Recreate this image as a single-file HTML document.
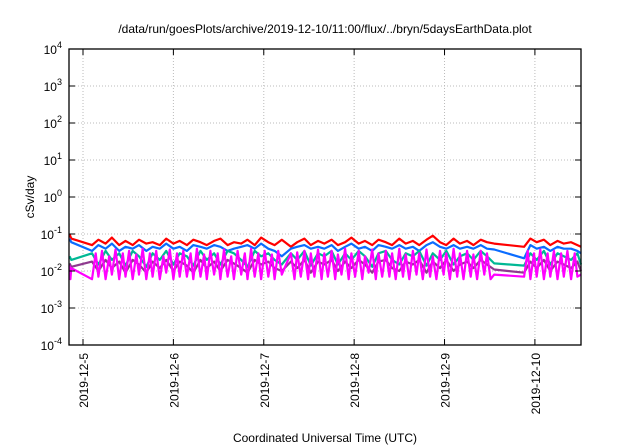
<!DOCTYPE html>
<html><head><meta charset="utf-8"><style>
html,body{margin:0;padding:0;background:#fff;}
svg{display:block;font-family:"Liberation Sans",sans-serif;}
</style></head><body>
<svg id="chart" width="640" height="448">
<text x="325" y="33" text-anchor="middle" font-size="12">/data/run/goesPlots/archive/2019-12-10/11:00/flux/../bryn/5daysEarthData.plot</text>
<g id="grid"></g>
<g id="series"></g>
<rect x="69" y="49" width="512" height="296" fill="none" stroke="#000" stroke-width="1.3"/>
<g id="axes"></g>
<text x="0" y="0" transform="translate(34,197) rotate(-90)" text-anchor="middle" font-size="12">cSv/day</text>
<text x="325" y="442" text-anchor="middle" font-size="12">Coordinated Universal Time (UTC)</text>
</svg>
<script>
const xTickValues=[5,6,7,8,9,10];
const xTickLabels=["2019-12-5","2019-12-6","2019-12-7","2019-12-8","2019-12-9","2019-12-10"];
const yTickExps=[-4,-3,-2,-1,0,1,2,3,4];
const times=[4.85,4.87,5.10,5.17,5.25,5.32,5.40,5.47,5.55,5.62,5.70,5.77,5.85,5.92,6.00,6.07,6.15,6.22,6.30,6.37,6.45,6.52,6.60,6.67,6.75,6.82,6.90,6.97,7.05,7.12,7.20,7.30,7.37,7.45,7.52,7.60,7.67,7.75,7.82,7.90,7.97,8.05,8.12,8.20,8.27,8.35,8.42,8.50,8.57,8.65,8.72,8.80,8.87,8.95,9.02,9.10,9.17,9.25,9.32,9.40,9.47,9.55,9.88,9.95,10.02,10.10,10.17,10.25,10.32,10.40,10.47,10.51];
const redVals=[0.1,0.075,0.05,0.07,0.055,0.08,0.05,0.065,0.05,0.07,0.055,0.06,0.05,0.075,0.055,0.065,0.05,0.07,0.06,0.05,0.065,0.075,0.05,0.06,0.055,0.07,0.05,0.08,0.06,0.05,0.07,0.045,0.06,0.075,0.05,0.065,0.055,0.07,0.05,0.06,0.08,0.055,0.065,0.05,0.07,0.06,0.05,0.075,0.055,0.065,0.05,0.07,0.09,0.06,0.05,0.075,0.055,0.065,0.05,0.07,0.06,0.055,0.045,0.075,0.06,0.07,0.05,0.065,0.055,0.06,0.05,0.045];
const blueVals=[0.075,0.06,0.035,0.05,0.04,0.055,0.035,0.045,0.04,0.05,0.035,0.045,0.04,0.055,0.04,0.045,0.035,0.05,0.045,0.04,0.05,0.045,0.035,0.04,0.045,0.05,0.04,0.055,0.04,0.035,0.025,0.04,0.045,0.05,0.04,0.045,0.04,0.05,0.035,0.045,0.055,0.04,0.045,0.035,0.05,0.045,0.04,0.05,0.04,0.045,0.035,0.05,0.06,0.045,0.04,0.05,0.04,0.045,0.04,0.05,0.04,0.038,0.022,0.05,0.04,0.045,0.035,0.045,0.04,0.04,0.035,0.03];
const greenVals=[0.025,0.02,0.03,0.015,0.035,0.02,0.03,0.014,0.035,0.025,0.013,0.03,0.02,0.035,0.015,0.03,0.025,0.014,0.035,0.02,0.03,0.015,0.035,0.03,0.02,0.013,0.035,0.025,0.03,0.02,0.015,0.03,0.02,0.035,0.014,0.03,0.025,0.035,0.015,0.03,0.02,0.035,0.025,0.013,0.03,0.035,0.02,0.015,0.03,0.025,0.035,0.014,0.03,0.02,0.035,0.015,0.025,0.03,0.02,0.035,0.025,0.016,0.014,0.03,0.02,0.035,0.015,0.03,0.025,0.02,0.03,0.015];
const purpleVals=[0.016,0.013,0.018,0.01,0.02,0.012,0.018,0.009,0.02,0.015,0.009,0.018,0.012,0.02,0.01,0.018,0.014,0.009,0.02,0.012,0.018,0.01,0.02,0.016,0.012,0.009,0.02,0.015,0.018,0.012,0.01,0.018,0.012,0.02,0.009,0.018,0.015,0.02,0.01,0.018,0.012,0.02,0.015,0.009,0.018,0.02,0.012,0.01,0.018,0.015,0.02,0.009,0.018,0.012,0.02,0.01,0.015,0.018,0.012,0.02,0.015,0.011,0.009,0.018,0.012,0.02,0.01,0.018,0.015,0.012,0.018,0.01];
const magTimes=[4.85,4.86,4.87,
5.10,5.14,5.17,5.21,5.25,5.29,5.32,5.36,5.40,5.44,5.47,5.51,5.55,5.59,5.62,5.66,5.70,5.74,5.77,5.81,5.85,5.89,5.92,5.96,6.00,6.04,6.07,6.11,6.15,6.19,6.22,6.26,6.30,6.34,6.37,6.41,6.45,6.49,6.52,6.56,6.60,6.64,6.67,6.71,6.75,6.79,6.82,6.86,6.90,6.94,6.97,7.01,7.05,7.09,7.12,7.16,7.20,
7.30,7.34,7.37,7.41,7.45,7.49,7.52,7.56,7.60,7.64,7.67,7.71,7.75,7.79,7.82,7.86,7.90,7.94,7.97,8.01,8.05,8.09,8.12,8.16,8.20,8.24,8.27,8.31,8.35,8.39,8.42,8.46,8.50,8.54,8.57,8.61,8.65,8.69,8.72,8.76,8.80,8.84,8.87,8.91,8.95,8.99,9.02,9.06,9.10,9.14,9.17,9.21,9.25,9.29,9.32,9.36,9.40,9.44,9.47,9.51,9.55,
9.88,9.92,9.95,9.99,10.02,10.06,10.10,10.14,10.17,10.21,10.25,10.29,10.32,10.36,10.40,10.44,10.47,10.51];
const magentaVals=[0.014,0.006,0.012,
0.006,0.03,0.007,0.035,0.006,0.025,0.008,0.038,0.006,0.03,
0.007,0.035,0.006,0.028,0.008,0.04,0.006,0.03,0.007,0.035,
0.006,0.025,0.009,0.038,0.006,0.03,0.007,0.035,0.007,0.03,
0.006,0.04,0.007,0.028,0.006,0.035,0.008,0.03,0.006,0.038,
0.007,0.025,0.006,0.035,0.008,0.03,0.006,0.04,0.007,0.03,
0.006,0.035,0.007,0.028,0.006,0.035,0.008,0.03,0.006,0.032,
0.007,0.035,0.006,0.03,0.007,0.038,0.006,0.03,0.007,0.035,
0.006,0.028,0.008,0.04,0.006,0.03,0.007,0.035,0.006,0.025,
0.009,0.038,0.006,0.03,0.007,0.035,0.007,0.03,0.006,0.04,
0.007,0.028,0.006,0.035,0.008,0.03,0.006,0.038,0.007,0.025,
0.006,0.035,0.008,0.03,0.006,0.04,0.007,0.03,0.006,0.035,
0.007,0.028,0.006,0.035,0.008,0.03,0.006,0.008,0.007,0.035,
0.006,0.03,0.007,0.038,0.006,0.03,0.007,0.035,0.006,0.03,
0.007,0.035,0.006,0.03,0.007,0.008,0.007,0.03,0.006,0.025];
const seriesNames=["red","blue","green","purple","magenta"];
const seriesColors=["#ff0000","#0a6cff","#00b894","#8e3a8e","#ff00ff"];
const seriesData=[redVals,blueVals,greenVals,purpleVals,magentaVals];
const seriesTimes=[times,times,times,times,magTimes];

const L=69,R=581,T=49,B=345,X0=4.845,X1=10.51;
const xs=v=>L+(v-X0)/(X1-X0)*(R-L);
const ys=v=>B-(Math.log10(v)+4)/8*(B-T);
const NS="http://www.w3.org/2000/svg";
const grid=document.getElementById('grid'),axes=document.getElementById('axes'),sg=document.getElementById('series');
function mk(tag,attrs,parent){const e=document.createElementNS(NS,tag);for(const k in attrs)e.setAttribute(k,attrs[k]);parent.appendChild(e);return e;}
yTickExps.forEach(ex=>{
  const y=B-(ex+4)/8*(B-T);
  const g=mk('line',{x1:L,x2:R,y1:y,y2:y,stroke:'#bbb','stroke-dasharray':'1,2','stroke-width':1},grid);
  
  
  const t1=mk('line',{x1:L,x2:L+6,y1:y,y2:y,stroke:'#000'},axes);
  
  
  const t2=mk('line',{x1:R-6,x2:R,y1:y,y2:y,stroke:'#000'},axes);
  
  
  const tx=mk('text',{x:L-7,y:y+5,'text-anchor':'end','font-size':12},axes);
  
  
  tx.textContent='10';
  const sp=mk('tspan',{dy:-6,'font-size':9},tx);sp.textContent=String(ex);
});
xTickValues.forEach((v,i)=>{
  const x=xs(v);
  const g=mk('line',{x1:x,x2:x,y1:T,y2:B,stroke:'#bbb','stroke-dasharray':'1,2','stroke-width':1},grid);
  
  
  const t1=mk('line',{x1:x,x2:x,y1:B-6,y2:B,stroke:'#000'},axes);
  
  
  const t2=mk('line',{x1:x,x2:x,y1:T,y2:T+6,stroke:'#000'},axes);
  
  
  const tx=mk('text',{x:0,y:0,transform:`translate(${x+5},${B+8}) rotate(-90)`,'text-anchor':'end','font-size':12},axes);
  
  
  tx.textContent=xTickLabels[i];
});
seriesData.forEach((vals,si)=>{
  const ts=seriesTimes[si];
  const n=Math.min(vals.length,ts.length);
  let d='';
  for(let i=0;i<n;i++){d+=(i?'L':'M')+xs(ts[i]).toFixed(1)+','+ys(vals[i]).toFixed(1);}
  const p=mk('path',{d:d,fill:'none',stroke:seriesColors[si],'stroke-width':2.2,'stroke-linejoin':'round'},sg);
  
  
});
</script>
</body></html>
